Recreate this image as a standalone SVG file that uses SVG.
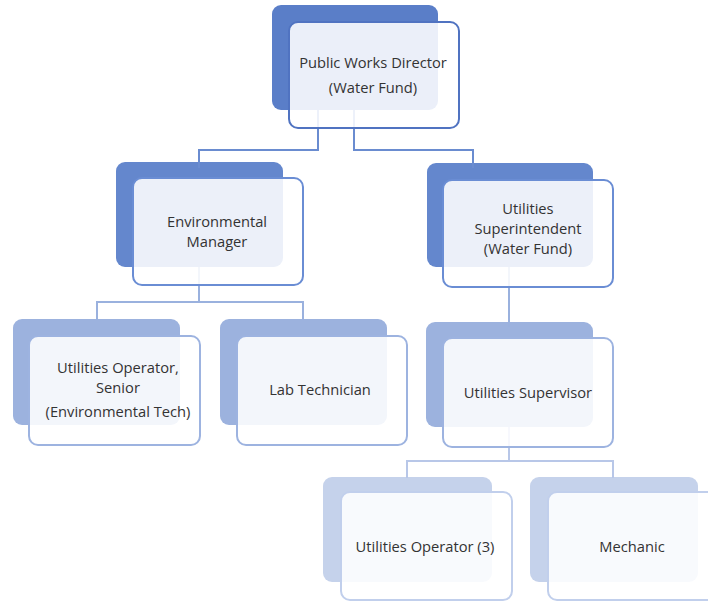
<svg xmlns="http://www.w3.org/2000/svg" width="708" height="602" viewBox="0 0 708 602">
  <style>
    text { font-family: "Open Sans", "Liberation Sans", sans-serif; font-size: 14.7px; fill: #333333; text-anchor: middle; }
    .front { fill: #ffffff; fill-opacity: 0.88; stroke-width: 2; }
    .l1 .back { fill: #5a7ec8; } .l1 .front { stroke: #5073c1; }
    .l2 .back { fill: #6487cd; } .l2 .front { stroke: #6a8dd4; }
    .l3 .back { fill: #9cb2de; } .l3 .front { stroke: #9db3e0; }
    .l4 .back { fill: #c5d2eb; } .l4 .front { stroke: #c1cfec; }
    .conn { fill: none; stroke-width: 2; }
  </style>
  <rect width="708" height="602" fill="#ffffff"/>

  <!-- back plates -->
  <g id="backs">
    <g class="l1"><rect class="back" x="272" y="5" width="166" height="105" rx="9"/></g>
    <g class="l2"><rect class="back" x="116" y="162" width="167" height="105" rx="9"/></g>
    <g class="l2"><rect class="back" x="427" y="163" width="166" height="104" rx="9"/></g>
    <g class="l3"><rect class="back" x="13" y="319" width="167" height="106" rx="9"/></g>
    <g class="l3"><rect class="back" x="220" y="319" width="167" height="106" rx="9"/></g>
    <g class="l3"><rect class="back" x="426" y="322" width="167" height="105" rx="9"/></g>
    <g class="l4"><rect class="back" x="323" y="477" width="169" height="105" rx="9"/></g>
    <g class="l4"><rect class="back" x="530" y="477" width="168" height="105" rx="9"/></g>
  </g>

  <!-- connectors -->
  <g id="connectors">
    <path class="conn" stroke="#6a8cd0" d="M318 110 V150 H199 V168"/>
    <path class="conn" stroke="#6a8cd0" d="M354 110 V150 H473 V168"/>
    <path class="conn" stroke="#9ab1de" d="M199 267 V302 H97 V320"/>
    <path class="conn" stroke="#9ab1de" d="M199 302 H303 V320"/>
    <path class="conn" stroke="#9ab1de" d="M509 267 V327"/>
    <path class="conn" stroke="#b8c7e8" d="M509 427 V461 H407 V478"/>
    <path class="conn" stroke="#b8c7e8" d="M509 461 H613 V478"/>
  </g>

  <g id="public-works-director" class="l1">
    <rect class="front" x="289" y="22" width="170" height="106" rx="9"/>
    <text x="373" y="68">Public Works Director</text>
    <text x="373" y="93">(Water Fund)</text>
  </g>

  <g id="environmental-manager" class="l2">
    <rect class="front" x="133" y="178" width="170" height="107" rx="9"/>
    <text x="217" y="227">Environmental</text>
    <text x="217" y="247">Manager</text>
  </g>

  <g id="utilities-superintendent" class="l2">
    <rect class="front" x="443" y="180" width="170" height="107" rx="9"/>
    <text x="528" y="214">Utilities</text>
    <text x="528" y="234">Superintendent</text>
    <text x="528" y="254">(Water Fund)</text>
  </g>

  <g id="utilities-operator-senior" class="l3">
    <rect class="front" x="29" y="336" width="171" height="109" rx="9"/>
    <text x="118" y="373">Utilities Operator,</text>
    <text x="118" y="393">Senior</text>
    <text x="118" y="417">(Environmental Tech)</text>
  </g>

  <g id="lab-technician" class="l3">
    <rect class="front" x="237" y="336" width="170" height="109" rx="9"/>
    <text x="320" y="395">Lab Technician</text>
  </g>

  <g id="utilities-supervisor" class="l3">
    <rect class="front" x="443" y="338" width="170" height="109" rx="9"/>
    <text x="528" y="398">Utilities Supervisor</text>
  </g>

  <g id="utilities-operator-3" class="l4">
    <rect class="front" x="341" y="492" width="171" height="108" rx="9"/>
    <text x="425" y="552">Utilities Operator (3)</text>
  </g>

  <g id="mechanic" class="l4">
    <rect class="front" x="548" y="492" width="172" height="108" rx="9"/>
    <text x="632" y="552">Mechanic</text>
  </g>
</svg>
